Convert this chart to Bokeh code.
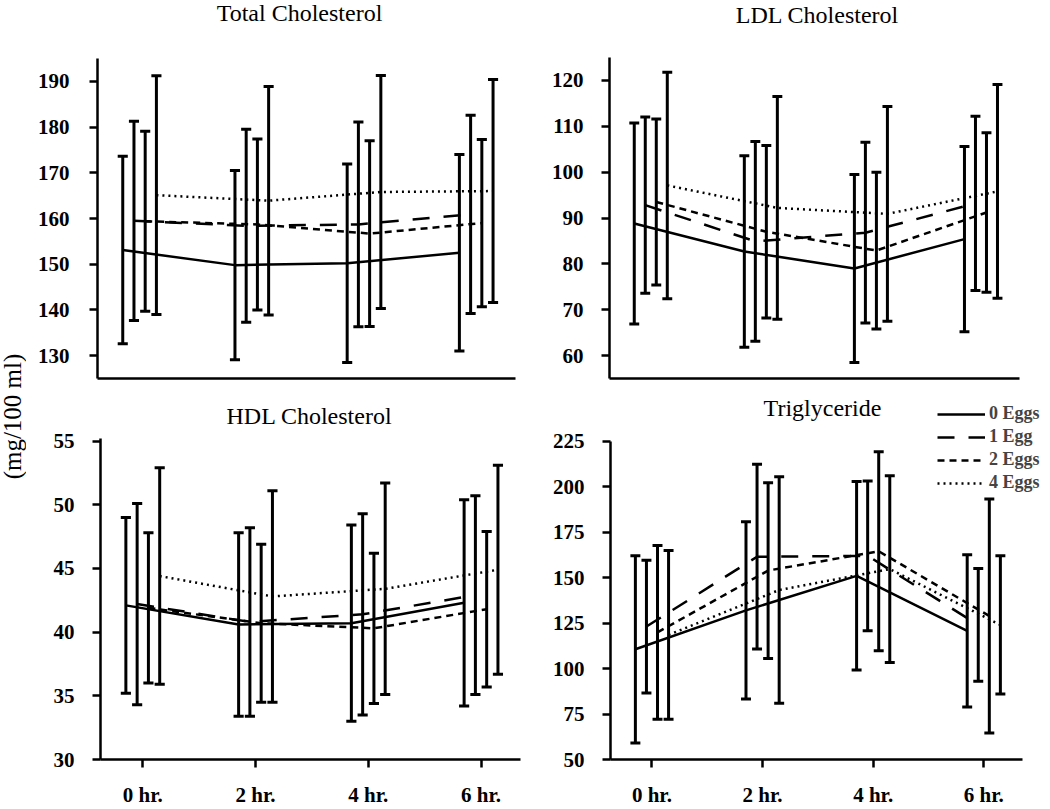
import math
from bokeh.plotting import figure
from bokeh.models import Range1d, Label, Legend, LegendItem, FixedTicker
from bokeh.layouts import row, column
from bokeh.embed import file_html
from bokeh.resources import INLINE

FONT = "Liberation Serif"

# ---------------- data ----------------
times = [0, 2, 4, 6]
time_labels = ["0 hr.", "2 hr.", "4 hr.", "6 hr."]
series = ["0 Eggs", "1 Egg", "2 Eggs", "4 Eggs"]

total_mean = {
    "0 Eggs": [153.1, 149.8, 150.2, 152.5],
    "1 Egg": [159.5, 158.4, 158.7, 160.9],
    "2 Eggs": [159.4, 158.7, 156.7, 159.0],
    "4 Eggs": [165.1, 163.9, 165.8, 166.0],
}
total_sd = {
    "0 Eggs": [20.5, 20.7, 21.7, 21.5],
    "1 Egg": [21.8, 21.1, 22.4, 21.7],
    "2 Eggs": [19.7, 18.7, 20.3, 18.3],
    "4 Eggs": [26.1, 25.0, 25.5, 24.4],
}
ldl_mean = {
    "0 Eggs": [88.8, 82.7, 79.0, 85.4],
    "1 Egg": [92.8, 84.9, 86.8, 93.2],
    "2 Eggs": [93.5, 87.0, 82.9, 91.2],
    "4 Eggs": [97.1, 92.2, 90.9, 95.8],
}
ldl_sd = {
    "0 Eggs": [21.9, 20.9, 20.5, 20.2],
    "1 Egg": [19.2, 21.8, 19.7, 19.0],
    "2 Eggs": [18.1, 18.8, 17.1, 17.4],
    "4 Eggs": [24.7, 24.3, 23.4, 23.3],
}
hdl_mean = {
    "0 Eggs": [42.1, 40.6, 40.7, 42.3],
    "1 Egg": [42.2, 40.8, 41.4, 42.9],
    "2 Eggs": [41.9, 40.7, 40.3, 41.8],
    "4 Eggs": [44.4, 42.8, 43.4, 44.9],
}
hdl_sd = {
    "0 Eggs": [6.9, 7.2, 7.7, 8.1],
    "1 Egg": [7.9, 7.4, 7.9, 7.8],
    "2 Eggs": [5.9, 6.2, 5.9, 6.1],
    "4 Eggs": [8.5, 8.3, 8.3, 8.2],
}
tg_mean = {
    "0 Eggs": [110.6, 132.0, 151.0, 120.7],
    "1 Egg": [123.1, 161.5, 162.0, 124.0],
    "2 Eggs": [119.9, 153.9, 164.5, 128.9],
    "4 Eggs": [118.5, 143.2, 154.7, 124.0],
}
tg_sd = {
    "0 Eggs": [51.5, 48.8, 51.8, 41.9],
    "1 Egg": [36.5, 50.8, 41.2, 31.0],
    "2 Eggs": [47.8, 48.3, 54.7, 64.3],
    "4 Eggs": [46.4, 62.3, 51.3, 38.0],
}

total_ticks = [130, 140, 150, 160, 170, 180, 190]
ldl_ticks = [60, 70, 80, 90, 100, 110, 120]
hdl_ticks = [30, 35, 40, 45, 50, 55]
tg_ticks = [50, 75, 100, 125, 150, 175, 200, 225]

# ---------------- style / layout ----------------
offsets = [-0.3, -0.1, 0.1, 0.3]
dashes = ["solid", "17 14", "7 5", "2 4"]
CAP = 0.09
X_MIN, X_MAX = -0.75, 6.7


def make_panel(title, means, sds, yr, yticks, fig_box, axis_box, title_c,
               show_x, standoff=18):
    """fig_box = (x0, y0, w, h) page px; axis_box = (left, right, top, bottom) page px."""
    fx0, fy0, fw, fh = fig_box
    al, ar, at, ab = axis_box
    left = al - fx0
    bottom = fy0 + fh - ab
    ppx = (ar - al) / (X_MAX - X_MIN)
    ppy = (ab - at) / (yr[1] - yr[0])
    x_end = X_MAX + (fx0 + fw - ar) / ppx
    y_end = yr[1] + (at - fy0) / ppy

    p = figure(width=fw, height=fh, output_backend="svg", toolbar_location=None,
               x_range=Range1d(X_MIN, x_end), y_range=Range1d(yr[0], y_end),
               min_border_left=left, min_border_right=0,
               min_border_top=0, min_border_bottom=bottom)
    p.outline_line_color = None
    p.grid.visible = False

    for ax in (p.xaxis[0], p.yaxis[0]):
        ax.axis_line_width = 2.5
        ax.axis_line_color = "black"
        ax.major_tick_line_width = 2.5
        ax.major_tick_line_color = "black"
        ax.major_tick_out = 8
        ax.major_tick_in = 0
        ax.minor_tick_line_color = None
        ax.major_label_text_font = FONT
        ax.major_label_text_font_size = "21px"
        ax.major_label_text_font_style = "bold"
        ax.major_label_text_color = "black"

    p.xaxis.bounds = (X_MIN, X_MAX)
    p.yaxis.bounds = (yr[0], yr[1])
    p.yaxis.ticker = FixedTicker(ticks=yticks)
    p.yaxis.major_label_standoff = standoff
    if show_x:
        p.xaxis.ticker = FixedTicker(ticks=times)
        p.xaxis.major_label_overrides = dict(zip(times, time_labels))
        p.xaxis.major_label_standoff = 15
    else:
        p.xaxis.ticker = FixedTicker(ticks=[])
        p.xaxis.major_tick_out = 0

    renderers = {}
    for s, off, dash in zip(series, offsets, dashes):
        xs = [t + off for t in times]
        m = means[s]
        sd = sds[s]
        lo = [a - b for a, b in zip(m, sd)]
        hi = [a + b for a, b in zip(m, sd)]
        p.segment(x0=xs, y0=lo, x1=xs, y1=hi, line_color="black", line_width=3)
        p.segment(x0=[x - CAP for x in xs], y0=lo, x1=[x + CAP for x in xs], y1=lo,
                  line_color="black", line_width=3)
        p.segment(x0=[x - CAP for x in xs], y0=hi, x1=[x + CAP for x in xs], y1=hi,
                  line_color="black", line_width=3)
        r = p.line(xs, m, line_color="black", line_width=2.5, line_dash=dash)
        renderers[s] = r

    p.add_layout(Label(x=title_c[0] - al, y=ab - title_c[1], x_units="screen", y_units="screen",
                       text=title, text_font=FONT, text_font_size="24px",
                       text_align="center", text_baseline="middle", text_color="black"))
    return p, renderers, ab


W_LAB = 26
W_L, W_R = 519, 505
H1, H2 = 395, 414
TOTAL_H = H1 + H2

p1, _, _ = make_panel("Total Cholesterol", total_mean, total_sd, (125, 195), total_ticks,
                      (W_LAB, 0, W_L, H1), (97, 515, 58, 378), (299, 12), False, standoff=20)
p2, _, _ = make_panel("LDL Cholesterol", ldl_mean, ldl_sd, (55, 125), ldl_ticks,
                      (W_LAB + W_L, 0, W_R, H1), (609, 1019, 57, 378), (817, 14), False)
p3, _, _ = make_panel("HDL Cholesterol", hdl_mean, hdl_sd, (30, 55.2), hdl_ticks,
                      (W_LAB, H1, W_L, H2), (100, 520, 438, 759), (309, 415), True)
p4, rends, ab4 = make_panel("Triglyceride", tg_mean, tg_sd, (50, 225), tg_ticks,
                            (W_LAB + W_L, H1, W_R, H2), (610, 1022, 441, 761), (822, 409), True)

legend = Legend(items=[LegendItem(label=s, renderers=[rends[s]]) for s in series],
                location=(937 - 610, ab4 - 495), orientation="vertical")
legend.border_line_color = None
legend.background_fill_alpha = 0
legend.padding = 0
legend.margin = 0
legend.spacing = 2
legend.glyph_width = 48
legend.glyph_height = 20
legend.label_height = 20
legend.label_standoff = 4
legend.label_text_font = FONT
legend.label_text_font_size = "18px"
legend.label_text_font_style = "bold"
p4.add_layout(legend)

# shared y-axis caption
lab = figure(width=W_LAB, height=TOTAL_H, output_backend="svg", toolbar_location=None,
             x_range=Range1d(0, W_LAB), y_range=Range1d(0, TOTAL_H),
             min_border=0, x_axis_type=None, y_axis_type=None)
lab.outline_line_color = None
lab.grid.visible = False
lab.add_layout(Label(x=12, y=TOTAL_H - 416, text="(mg/100 ml)", angle=math.pi / 2,
                     text_font=FONT, text_font_size="25px", text_align="center",
                     text_baseline="middle", text_color="black"))

layout = row(lab, column(row(p1, p2), row(p3, p4)))

with open("out.html", "w") as f:
    f.write(file_html(layout, INLINE))
